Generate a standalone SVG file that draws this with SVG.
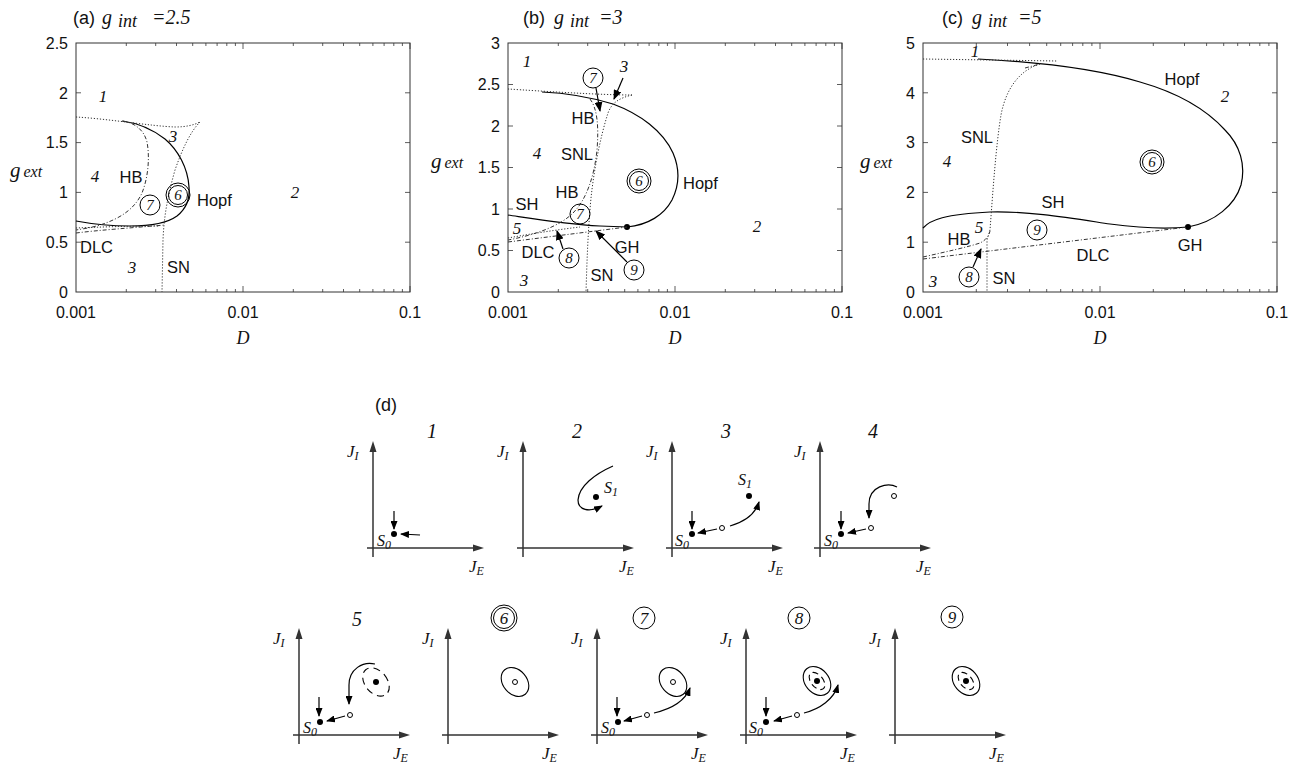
<svg xmlns="http://www.w3.org/2000/svg" xmlns:xlink="http://www.w3.org/1999/xlink" width="1303" height="767" viewBox="0 0 1303 767">
<style>
.sans{font-family:"Liberation Sans",Arial,sans-serif;fill:#111}
.ser{font-family:"Liberation Serif","Times New Roman",serif;font-style:italic;fill:#111}
.box{fill:none;stroke:#333;stroke-width:1}
.tick{fill:none;stroke:#333;stroke-width:0.8}
.solid{fill:none;stroke:#000;stroke-width:1.2}
.dot{fill:none;stroke:#333;stroke-width:1;stroke-dasharray:1.2 1.8}
.dd{fill:none;stroke:#333;stroke-width:1;stroke-dasharray:4 2 1 2}
.arr{fill:none;stroke:#000;stroke-width:1.2;marker-end:url(#ah)}
.sarr{fill:none;stroke:#000;stroke-width:1.2;marker-end:url(#sa)}
.circ{fill:none;stroke:#000;stroke-width:1}
.ell{fill:none;stroke:#000;stroke-width:1.1}
.open{fill:#fff;stroke:#000;stroke-width:1}
.lab{font-size:16.5px}
.num{font-size:17px}
</style>
<defs>
<marker id="ah" markerUnits="userSpaceOnUse" markerWidth="10" markerHeight="8" refX="9" refY="4" orient="auto"><path d="M0,0L10,4L0,8z" fill="#000"/></marker>
<marker id="sa" markerUnits="userSpaceOnUse" markerWidth="9" markerHeight="7" refX="8" refY="3.5" orient="auto"><path d="M0,0L9,3.5L0,7z" fill="#000"/></marker>
<path id="decA" class="tick" d="M50.3,292v-3M79.7,292v-3M100.5,292v-3M116.7,292v-3M129.9,292v-3M141.1,292v-3M150.8,292v-3M159.4,292v-3M50.3,43v3M79.7,43v3M100.5,43v3M116.7,43v3M129.9,43v3M141.1,43v3M150.8,43v3M159.4,43v3M167,292v-6M167,43v6"/>
<path id="decC" class="tick" d="M53.3,292v-3M84.5,292v-3M106.6,292v-3M123.7,292v-3M137.7,292v-3M149.6,292v-3M159.8,292v-3M168.9,292v-3M53.3,43v3M84.5,43v3M106.6,43v3M123.7,43v3M137.7,43v3M149.6,43v3M159.8,43v3M168.9,43v3M177,292v-6M177,43v6"/>
<g id="axes"><path d="M0,9V-97M-6,0H101" stroke="#333" stroke-width="1.5" fill="none"/><path d="M0,-107l-3.5,11h7zM111,0l-11,-3.5v7z" fill="#333"/></g>
</defs>
<rect width="1303" height="767" fill="#fff"/>

<!-- Panel (a) -->
<g id="panel-a">
<text x="73" y="24" class="sans" font-size="18">(a)</text>
<text x="102" y="24" class="ser" font-size="20">g</text>
<text x="118" y="27" class="ser" font-size="18">int</text>
<text x="152" y="24" class="ser" font-size="20">=2.5</text>
<rect x="76" y="43" width="334" height="249" class="box"/>
<use xlink:href="#decA" x="76"/>
<use xlink:href="#decA" x="243"/>
<path class="tick" d="M76,92.8h5M76,142.6h5M76,192.4h5M76,242.2h5M410,92.8h-5M410,142.6h-5M410,192.4h-5M410,242.2h-5"/>
<g class="sans" font-size="16" text-anchor="end">
<text x="68" y="48.5">2.5</text><text x="68" y="98.5">2</text><text x="68" y="148">1.5</text><text x="68" y="198">1</text><text x="68" y="248">0.5</text><text x="68" y="297.5">0</text>
</g>
<g class="sans" font-size="16" text-anchor="middle">
<text x="76" y="318">0.001</text><text x="243" y="318">0.01</text><text x="410" y="318">0.1</text>
</g>
<text x="243" y="344" class="ser" font-size="18" text-anchor="middle">D</text>
<text x="10" y="177" class="ser" font-size="21">g<tspan font-size="16" dx="3">ext</tspan></text>
<path class="solid" d="M76,221 C92,224 110,226 130,226 C150,226 166,224 177,216 C187,208 190,197 189,187 C188,168 178,150 165,139 C152,129 138,123 122,121"/>
<path class="dot" d="M76,117 C110,119 150,126 175,127 C186,127 194,125 200,122"/>
<path class="dot" d="M200,122 C190,132 182,150 175,170 C168,195 164,215 163,240 L162,292"/>
<path class="dd" d="M123,121 C135,123 144,130 147,142 C150,158 148,178 142,193 C135,208 122,218 100,225 C90,228 82,229 76,230"/>
<path class="dd" d="M76,233 C100,230 130,228 165,225"/>
<path class="dot" d="M76,228 C100,227 130,226 160,226"/>
<text x="103" y="102" class="ser num" text-anchor="middle">1</text>
<text x="173" y="142" class="ser num" text-anchor="middle">3</text>
<text x="95" y="182" class="ser num" text-anchor="middle">4</text>
<text x="131" y="183" class="sans lab" text-anchor="middle">HB</text>
<circle cx="178" cy="195" r="12" class="circ"/><circle cx="178" cy="195" r="9.5" class="circ"/>
<text x="178" y="200" class="ser" font-size="15" text-anchor="middle">6</text>
<text x="197" y="206" class="sans lab">Hopf</text>
<circle cx="150" cy="205" r="10" class="circ"/>
<text x="150" y="210" class="ser" font-size="15" text-anchor="middle">7</text>
<text x="295" y="198" class="ser num" text-anchor="middle">2</text>
<text x="80" y="253" class="sans lab">DLC</text>
<text x="132" y="273" class="ser num" text-anchor="middle">3</text>
<text x="167" y="273" class="sans lab">SN</text>
</g>

<!-- Panel (b) -->
<g id="panel-b">
<text x="523" y="24" class="sans" font-size="18">(b)</text>
<text x="554" y="24" class="ser" font-size="20">g</text>
<text x="570" y="27" class="ser" font-size="18">int</text>
<text x="599" y="24" class="ser" font-size="20">=3</text>
<rect x="508" y="43" width="334" height="249" class="box"/>
<use xlink:href="#decA" x="508"/>
<use xlink:href="#decA" x="675"/>
<path class="tick" d="M508,84.5h5M508,126h5M508,167.5h5M508,209h5M508,250.5h5M842,84.5h-5M842,126h-5M842,167.5h-5M842,209h-5M842,250.5h-5"/>
<g class="sans" font-size="16" text-anchor="end">
<text x="500" y="48.5">3</text><text x="500" y="90">2.5</text><text x="500" y="131.5">2</text><text x="500" y="173">1.5</text><text x="500" y="214.5">1</text><text x="500" y="256">0.5</text><text x="500" y="297.5">0</text>
</g>
<g class="sans" font-size="16" text-anchor="middle">
<text x="508" y="318">0.001</text><text x="675" y="318">0.01</text><text x="842" y="318">0.1</text>
</g>
<text x="675" y="344" class="ser" font-size="18" text-anchor="middle">D</text>
<text x="431" y="168" class="ser" font-size="21">g<tspan font-size="16" dx="3">ext</tspan></text>
<path class="solid" d="M508,215 C535,219 565,224 600,226 L627,227 C648,225 664,215 672,200 C680,184 679,167 673,153 C663,131 640,114 613,104 C590,97 565,93 542,92"/>
<circle cx="627" cy="227" r="3" fill="#000"/>
<path class="dot" d="M508,89 C540,91 600,95 632,95"/>
<path class="dot" d="M632,95 C620,98 612,102 608,113 C600,138 594,170 591,198 C588,230 587,260 586,292"/>
<path class="dd" d="M590,99 C597,108 599,125 597,150 C594,178 586,200 573,213 C560,226 535,235 508,240"/>
<path class="dd" d="M508,242 L627,227"/>
<path class="dot" d="M508,238 C530,234 555,230 580,227"/>
<text x="527" y="67" class="ser num" text-anchor="middle">1</text>
<circle cx="593" cy="78" r="10" class="circ"/>
<text x="593" y="83" class="ser" font-size="15" text-anchor="middle">7</text>
<path class="arr" d="M596,88 L600,111"/>
<text x="624" y="72" class="ser num" text-anchor="middle">3</text>
<path class="arr" d="M623,78 L614,99"/>
<text x="583" y="124" class="sans lab" text-anchor="middle">HB</text>
<text x="537" y="159" class="ser num" text-anchor="middle">4</text>
<text x="577" y="160" class="sans lab" text-anchor="middle">SNL</text>
<circle cx="639" cy="181" r="12" class="circ"/><circle cx="639" cy="181" r="9.5" class="circ"/>
<text x="639" y="186" class="ser" font-size="15" text-anchor="middle">6</text>
<text x="683" y="189" class="sans lab">Hopf</text>
<text x="567" y="198" class="sans lab" text-anchor="middle">HB</text>
<text x="527" y="210" class="sans lab" text-anchor="middle">SH</text>
<circle cx="580" cy="214" r="10" class="circ"/>
<text x="580" y="219" class="ser" font-size="15" text-anchor="middle">7</text>
<text x="517" y="234" class="ser num" text-anchor="middle">5</text>
<text x="538" y="258" class="sans lab" text-anchor="middle">DLC</text>
<circle cx="569" cy="258" r="10" class="circ"/>
<text x="569" y="263" class="ser" font-size="15" text-anchor="middle">8</text>
<path class="arr" d="M563,249 L557,231"/>
<text x="627" y="253" class="sans lab" text-anchor="middle">GH</text>
<circle cx="634" cy="270" r="10" class="circ"/>
<text x="634" y="275" class="ser" font-size="15" text-anchor="middle">9</text>
<path class="arr" d="M627,262 L596,231"/>
<text x="524" y="286" class="ser num" text-anchor="middle">3</text>
<text x="602" y="281" class="sans lab" text-anchor="middle">SN</text>
<text x="757" y="232" class="ser num" text-anchor="middle">2</text>
</g>

<!-- Panel (c) -->
<g id="panel-c">
<text x="942" y="24" class="sans" font-size="18">(c)</text>
<text x="972" y="24" class="ser" font-size="20">g</text>
<text x="988" y="27" class="ser" font-size="18">int</text>
<text x="1018" y="24" class="ser" font-size="20">=5</text>
<rect x="923" y="43" width="354" height="249" class="box"/>
<use xlink:href="#decC" x="923"/>
<use xlink:href="#decC" x="1100"/>
<path class="tick" d="M923,92.8h5M923,142.6h5M923,192.4h5M923,242.2h5M1277,92.8h-5M1277,142.6h-5M1277,192.4h-5M1277,242.2h-5"/>
<g class="sans" font-size="16" text-anchor="end">
<text x="915" y="48.5">5</text><text x="915" y="98.5">4</text><text x="915" y="148">3</text><text x="915" y="198">2</text><text x="915" y="248">1</text><text x="915" y="297.5">0</text>
</g>
<g class="sans" font-size="16" text-anchor="middle">
<text x="923" y="318">0.001</text><text x="1100" y="318">0.01</text><text x="1277" y="318">0.1</text>
</g>
<text x="1100" y="344" class="ser" font-size="18" text-anchor="middle">D</text>
<text x="860" y="168" class="ser" font-size="21">g<tspan font-size="16" dx="3">ext</tspan></text>
<path class="solid" d="M923,228 C930,220 945,214 990,212 C1030,211 1070,218 1110,224 C1140,228 1168,229 1188,227 C1215,222 1235,205 1241,185 C1246,165 1240,145 1225,130 C1205,108 1175,92 1140,82 C1100,70 1040,62 978,59"/>
<circle cx="1188" cy="227" r="3" fill="#000"/>
<path class="dot" d="M923,59 L1057,61"/>
<path class="dot" d="M1040,64 C1020,70 1006,88 1001,115 C996,145 993,190 990,230 L987,240 L987,292"/>
<path class="dd" d="M1025,68 L1040,64"/>
<path class="dd" d="M923,257 C945,252 968,247 980,243 C986,240 989,236 990,231"/>
<path class="dd" d="M923,259 L1188,227"/>
<text x="975" y="57" class="ser num" text-anchor="middle">1</text>
<text x="1182" y="85" class="sans lab" text-anchor="middle">Hopf</text>
<text x="1225" y="102" class="ser num" text-anchor="middle">2</text>
<text x="977" y="143" class="sans lab" text-anchor="middle">SNL</text>
<text x="947" y="167" class="ser num" text-anchor="middle">4</text>
<circle cx="1152" cy="162" r="12" class="circ"/><circle cx="1152" cy="162" r="9.5" class="circ"/>
<text x="1152" y="167" class="ser" font-size="15" text-anchor="middle">6</text>
<text x="1053" y="208" class="sans lab" text-anchor="middle">SH</text>
<text x="979" y="233" class="ser num" text-anchor="middle">5</text>
<text x="959" y="245" class="sans lab" text-anchor="middle">HB</text>
<circle cx="1037" cy="230" r="10" class="circ"/>
<text x="1037" y="235" class="ser" font-size="15" text-anchor="middle">9</text>
<text x="1093" y="261" class="sans lab" text-anchor="middle">DLC</text>
<text x="1190" y="251" class="sans lab" text-anchor="middle">GH</text>
<circle cx="969" cy="277" r="10" class="circ"/>
<text x="969" y="282" class="ser" font-size="15" text-anchor="middle">8</text>
<path class="arr" d="M973,267 L981,249"/>
<text x="933" y="287" class="ser num" text-anchor="middle">3</text>
<text x="1004" y="284" class="sans lab" text-anchor="middle">SN</text>
</g>

<!-- Panel (d) -->
<text id="label-d" x="375" y="411" class="sans" font-size="18">(d)</text>

<g id="pp1" transform="translate(373,548)">
<use xlink:href="#axes"/>
<text x="-26" y="-91" class="ser" font-size="17">J<tspan font-size="12" dy="3">I</tspan></text>
<text x="96" y="24" class="ser" font-size="17">J<tspan font-size="12" dy="3">E</tspan></text>
<text x="59" y="-110" class="ser" font-size="20" text-anchor="middle">1</text>
<circle cx="21" cy="-14" r="3" fill="#000"/>
<text x="4" y="-2" class="ser" font-size="16">S<tspan font-size="12" dy="3">0</tspan></text>
<path class="sarr" d="M21,-37 L21,-19"/>
<path class="sarr" d="M47,-13 L28,-14"/>
</g>

<g id="pp2" transform="translate(523,548)">
<use xlink:href="#axes"/>
<text x="-26" y="-91" class="ser" font-size="17">J<tspan font-size="12" dy="3">I</tspan></text>
<text x="96" y="24" class="ser" font-size="17">J<tspan font-size="12" dy="3">E</tspan></text>
<text x="54" y="-110" class="ser" font-size="20" text-anchor="middle">2</text>
<circle cx="73" cy="-51" r="3" fill="#000"/>
<text x="81" y="-55" class="ser" font-size="16">S<tspan font-size="12" dy="3">1</tspan></text>
<path class="sarr" d="M90,-82 C72,-74 56,-62 55,-48 C55,-38 66,-35 79,-42"/>
</g>

<g id="pp3" transform="translate(672,548)">
<use xlink:href="#axes"/>
<text x="-26" y="-91" class="ser" font-size="17">J<tspan font-size="12" dy="3">I</tspan></text>
<text x="96" y="24" class="ser" font-size="17">J<tspan font-size="12" dy="3">E</tspan></text>
<text x="54" y="-110" class="ser" font-size="20" text-anchor="middle">3</text>
<circle cx="20" cy="-14" r="3" fill="#000"/>
<text x="3" y="-2" class="ser" font-size="16">S<tspan font-size="12" dy="3">0</tspan></text>
<path class="sarr" d="M20,-37 L20,-19"/>
<circle cx="50" cy="-20" r="2.5" class="open"/>
<path class="sarr" d="M45,-19 L26,-15"/>
<circle cx="77" cy="-52" r="3" fill="#000"/>
<text x="66" y="-63" class="ser" font-size="16">S<tspan font-size="12" dy="3">1</tspan></text>
<path class="sarr" d="M58,-22 C72,-26 83,-33 87,-46"/>
</g>

<g id="pp4" transform="translate(820,548)">
<use xlink:href="#axes"/>
<text x="-26" y="-91" class="ser" font-size="17">J<tspan font-size="12" dy="3">I</tspan></text>
<text x="96" y="24" class="ser" font-size="17">J<tspan font-size="12" dy="3">E</tspan></text>
<text x="53" y="-110" class="ser" font-size="20" text-anchor="middle">4</text>
<circle cx="21" cy="-14" r="3" fill="#000"/>
<text x="4" y="-2" class="ser" font-size="16">S<tspan font-size="12" dy="3">0</tspan></text>
<path class="sarr" d="M21,-37 L21,-19"/>
<circle cx="51" cy="-20" r="2.5" class="open"/>
<path class="sarr" d="M46,-19 L28,-15"/>
<circle cx="74" cy="-52" r="2.5" class="open"/>
<path class="sarr" d="M77,-61 C68,-66 49,-62 49,-44 L49,-30"/>
</g>

<g id="pp5" transform="translate(299,735)">
<use xlink:href="#axes"/>
<text x="-26" y="-91" class="ser" font-size="17">J<tspan font-size="12" dy="3">I</tspan></text>
<text x="94" y="24" class="ser" font-size="17">J<tspan font-size="12" dy="3">E</tspan></text>
<text x="58" y="-109" class="ser" font-size="20" text-anchor="middle">5</text>
<circle cx="21" cy="-13" r="3" fill="#000"/>
<text x="4" y="-2" class="ser" font-size="16">S<tspan font-size="12" dy="3">0</tspan></text>
<path class="sarr" d="M20,-38 L20,-19"/>
<circle cx="51" cy="-20" r="2.5" class="open"/>
<path class="sarr" d="M46,-19 L28,-14"/>
<circle cx="77" cy="-53" r="3" fill="#000"/>
<ellipse cx="77" cy="-53" rx="11" ry="16" transform="rotate(-40 77 -53)" class="ell" stroke-dasharray="7 5"/>
<path class="sarr" d="M76,-71 C64,-74 50,-66 50,-50 L50,-31"/>
</g>

<g id="pp6" transform="translate(448,735)">
<use xlink:href="#axes"/>
<text x="-26" y="-91" class="ser" font-size="17">J<tspan font-size="12" dy="3">I</tspan></text>
<text x="94" y="24" class="ser" font-size="17">J<tspan font-size="12" dy="3">E</tspan></text>
<circle cx="56" cy="-117" r="13" class="circ"/><circle cx="56" cy="-117" r="10.5" class="circ"/>
<text x="56" y="-111" class="ser" font-size="17" text-anchor="middle">6</text>
<ellipse cx="67" cy="-53" rx="12" ry="16" transform="rotate(-40 67 -53)" class="ell"/>
<circle cx="67" cy="-53" r="2.5" class="open"/>
</g>

<g id="pp7" transform="translate(597,735)">
<use xlink:href="#axes"/>
<text x="-26" y="-91" class="ser" font-size="17">J<tspan font-size="12" dy="3">I</tspan></text>
<text x="94" y="24" class="ser" font-size="17">J<tspan font-size="12" dy="3">E</tspan></text>
<circle cx="47" cy="-117" r="11" class="circ"/>
<text x="47" y="-111" class="ser" font-size="17" text-anchor="middle">7</text>
<circle cx="21" cy="-13" r="3" fill="#000"/>
<text x="4" y="-2" class="ser" font-size="16">S<tspan font-size="12" dy="3">0</tspan></text>
<path class="sarr" d="M20,-38 L20,-19"/>
<circle cx="50" cy="-20" r="2.5" class="open"/>
<path class="sarr" d="M45,-19 L27,-14"/>
<ellipse cx="76" cy="-53" rx="12" ry="16" transform="rotate(-40 76 -53)" class="ell"/>
<circle cx="76" cy="-53" r="2.5" class="open"/>
<path class="sarr" d="M57,-22 C74,-26 88,-34 93,-47"/>
</g>

<g id="pp8" transform="translate(746,735)">
<use xlink:href="#axes"/>
<text x="-26" y="-91" class="ser" font-size="17">J<tspan font-size="12" dy="3">I</tspan></text>
<text x="94" y="24" class="ser" font-size="17">J<tspan font-size="12" dy="3">E</tspan></text>
<circle cx="53" cy="-117" r="11" class="circ"/>
<text x="53" y="-111" class="ser" font-size="17" text-anchor="middle">8</text>
<circle cx="20" cy="-13" r="3" fill="#000"/>
<text x="3" y="-2" class="ser" font-size="16">S<tspan font-size="12" dy="3">0</tspan></text>
<path class="sarr" d="M20,-38 L20,-19"/>
<circle cx="51" cy="-20" r="2.5" class="open"/>
<path class="sarr" d="M46,-19 L28,-14"/>
<ellipse cx="71" cy="-54" rx="12" ry="16" transform="rotate(-40 71 -54)" class="ell"/>
<ellipse cx="71" cy="-54" rx="6" ry="10" transform="rotate(-40 71 -54)" class="ell" stroke-dasharray="6 4"/>
<circle cx="71" cy="-54" r="3" fill="#000"/>
<path class="sarr" d="M58,-22 C74,-26 88,-36 92,-50"/>
</g>

<g id="pp9" transform="translate(895,735)">
<use xlink:href="#axes"/>
<text x="-26" y="-91" class="ser" font-size="17">J<tspan font-size="12" dy="3">I</tspan></text>
<text x="94" y="24" class="ser" font-size="17">J<tspan font-size="12" dy="3">E</tspan></text>
<circle cx="57" cy="-118" r="11" class="circ"/>
<text x="57" y="-112" class="ser" font-size="17" text-anchor="middle">9</text>
<ellipse cx="71" cy="-54" rx="12" ry="16" transform="rotate(-40 71 -54)" class="ell"/>
<ellipse cx="71" cy="-54" rx="6" ry="10" transform="rotate(-40 71 -54)" class="ell" stroke-dasharray="6 4"/>
<circle cx="71" cy="-54" r="3" fill="#000"/>
</g>
</svg>
